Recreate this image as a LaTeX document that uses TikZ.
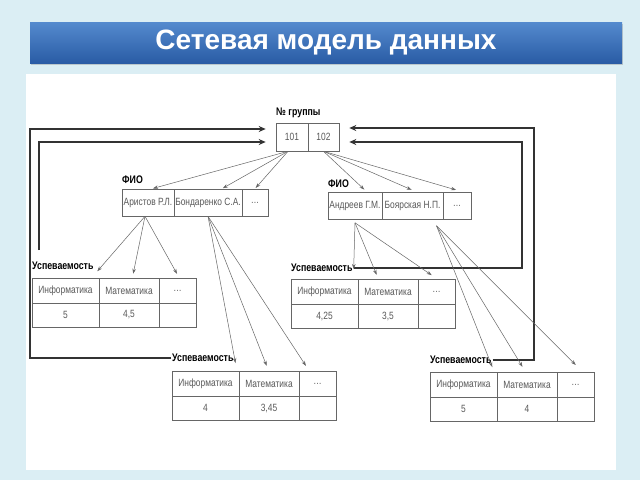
\documentclass[tikz,border=0pt]{standalone}
\usepackage{fontspec}
\setmainfont{Liberation Sans}
\newfontfamily\narrowfont[FakeStretch=0.8]{Liberation Sans}
\usetikzlibrary{arrows.meta}
\usetikzlibrary{shadows}
\pgfdeclarelayer{background}
\pgfdeclarelayer{foreground}
\pgfsetlayers{background,main,foreground}
\definecolor{pagebg}{RGB}{219,238,244}
\definecolor{bannertop}{RGB}{84,138,206}
\definecolor{bannerbot}{RGB}{42,92,165}

\begin{document}
\begin{tikzpicture}[x=1pt,y=-1pt,
					banner/.style={minimum width=592pt, minimum height=41pt, top color=bannertop, bottom color=bannerbot, drop shadow={opacity=0.35, shadow xshift=1pt, shadow yshift=-2pt}, text=white, font=\bfseries\fontsize{28}{30}\selectfont},
					cell/.style={draw=black!60, line width=0.6pt, inner sep=0pt, text=black!65, font=\narrowfont\fontsize{10.5}{12}\selectfont},
					headcell/.style={cell, minimum height=25pt},
					valcell/.style={cell, minimum height=24pt},
					namecell/.style={cell, minimum height=27pt},
					caption/.style={anchor=west, inner sep=1pt, font=\narrowfont\bfseries\fontsize{11}{12}\selectfont},
					feedback/.style={line width=1.6pt, black!80, -{Stealth[length=7pt,width=6pt]}},
					pointer/.style={line width=0.5pt, black!60, shorten >=1pt, -{Stealth[length=5pt,width=3.5pt]}},
					]
					\useasboundingbox (0,0) rectangle (640,480);
					\begin{pgfonlayer}{background}
					\fill[pagebg] (0,0) rectangle (640,480);
					\fill[white] (26,74) rectangle (616,470);
					\end{pgfonlayer}
					
					%Title
					\node[banner] (title) at (326,42.5) {Сетевая модель данных};
					
					%Captions
					\node[caption] (grp)  at (275,113) {№ группы};
					\node[caption] (fio1) at (121,180) {ФИО};
					\node[caption] (fio2) at (327,184) {ФИО};
					\node[caption] (lab1) at (31,266)  {Успеваемость};
					\node[caption] (lab2) at (171,358) {Успеваемость};
					\node[caption] (lab3) at (290,268) {Успеваемость};
					\node[caption] (lab4) at (429,360) {Успеваемость};
					
					%Groups
					\node[namecell, minimum width=32pt, minimum height=28pt] (g101) at (292,137)   {101};
					\node[namecell, minimum width=31pt, minimum height=28pt] (g102) at (323.5,137) {102};
					
					%Students
					\node[namecell, minimum width=52pt] (f1a) at (148,202.5) {Аристов Р.Л.};
					\node[namecell, minimum width=68pt] (f1b) at (208,202.5) {Бондаренко С.А.};
					\node[namecell, minimum width=26pt] (f1c) at (255,202.5) {\dots};
					\node[namecell, minimum width=54pt] (f2a) at (355,206)   {Андреев Г.М.};
					\node[namecell, minimum width=61pt] (f2b) at (412.5,206) {Боярская Н.П.};
					\node[namecell, minimum width=28pt] (f2c) at (457,206)   {\dots};
					
					%Marks
					\node[headcell, minimum width=67pt] (t1a) at (65.5,290.5)  {Информатика};
					\node[headcell, minimum width=60pt] (t1b) at (129,290.5)   {Математика};
					\node[headcell, minimum width=37pt] (t1c) at (177.5,290.5) {\dots};
					\node[valcell,  minimum width=67pt] (t1d) at (65.5,315)    {5};
					\node[valcell,  minimum width=60pt] (t1e) at (129,315)     {4,5};
					\node[valcell,  minimum width=37pt] (t1f) at (177.5,315)   {};
					
					\node[headcell, minimum width=67pt] (t2a) at (205.5,383.5) {Информатика};
					\node[headcell, minimum width=60pt] (t2b) at (269,383.5)   {Математика};
					\node[headcell, minimum width=37pt] (t2c) at (317.5,383.5) {\dots};
					\node[valcell,  minimum width=67pt] (t2d) at (205.5,408)   {4};
					\node[valcell,  minimum width=60pt] (t2e) at (269,408)     {3,45};
					\node[valcell,  minimum width=37pt] (t2f) at (317.5,408)   {};
					
					\node[headcell, minimum width=67pt] (t3a) at (324.5,291.5) {Информатика};
					\node[headcell, minimum width=60pt] (t3b) at (388,291.5)   {Математика};
					\node[headcell, minimum width=37pt] (t3c) at (436.5,291.5) {\dots};
					\node[valcell,  minimum width=67pt] (t3d) at (324.5,316)   {4,25};
					\node[valcell,  minimum width=60pt] (t3e) at (388,316)     {3,5};
					\node[valcell,  minimum width=37pt] (t3f) at (436.5,316)   {};
					
					\node[headcell, minimum width=67pt] (t4a) at (463.5,384.5) {Информатика};
					\node[headcell, minimum width=60pt] (t4b) at (527,384.5)   {Математика};
					\node[headcell, minimum width=37pt] (t4c) at (575.5,384.5) {\dots};
					\node[valcell,  minimum width=67pt] (t4d) at (463.5,409)   {5};
					\node[valcell,  minimum width=60pt] (t4e) at (527,409)     {4};
					\node[valcell,  minimum width=37pt] (t4f) at (575.5,409)   {};
					
					%Corners of the back links
					\coordinate (lo) at (30,129);
					\coordinate (li) at (39,250);
					\coordinate (ri) at (522,142);
					\coordinate (ro) at (534,128);
					
					%Back links
					\draw[feedback] (lab2.west) -| (lo) -- ([xshift=-10pt,yshift=8pt]g101.west);
					\draw[feedback] (li) |- ([xshift=-10pt,yshift=-5pt]g101.west);
					\draw[feedback] (lab4.east) -| (ro) -- ([xshift=10pt,yshift=9pt]g102.east);
					\draw[feedback] (lab3.east) -| (ri) -- ([xshift=10pt,yshift=-5pt]g102.east);
					
					%Pointers
					\draw[pointer] ([xshift=-4pt]g101.south) -- ([xshift=4pt]f1a.north);
					\draw[pointer] ([xshift=-4pt]g101.south) -- ([xshift=14pt]f1b.north);
					\draw[pointer] ([xshift=-4pt]g101.south) -- (f1c.north);
					\draw[pointer] (g102.south) -- ([xshift=10pt,yshift=2pt]f2a.north);
					\draw[pointer] (g102.south) -- ([yshift=2pt]f2b.north);
					\draw[pointer] (g102.south) -- ([yshift=2pt]f2c.north);
					
					\draw[pointer] ([xshift=-3pt]f1a.south) -- ([xshift=2pt,yshift=-6pt]lab1.east);
					\draw[pointer] ([xshift=-3pt]f1a.south) -- ([xshift=4pt,yshift=3pt]t1b.north);
					\draw[pointer] ([xshift=-3pt]f1a.south) -- ([yshift=3pt]t1c.north);
					\draw[pointer] (f1b.south) -- ([xshift=1pt,yshift=-6pt]lab2.east);
					\draw[pointer] (f1b.south) -- ([xshift=-2pt,yshift=4pt]t2b.north);
					\draw[pointer] (f1b.south) -- ([xshift=-11pt,yshift=4pt]t2c.north);
					\draw[pointer] ([yshift=-3pt]f2a.south) -- ([yshift=-2pt]lab3.east);
					\draw[pointer] ([yshift=-3pt]f2a.south) -- ([xshift=-11pt,yshift=3pt]t3b.north);
					\draw[pointer] ([yshift=-3pt]f2a.south) -- ([xshift=-4pt,yshift=3pt]t3c.north);
					\draw[pointer] ([xshift=24pt,yshift=-6pt]f2b.south) -- ([yshift=-8pt]lab4.east);
					\draw[pointer] ([xshift=24pt,yshift=-6pt]f2b.south) -- ([xshift=-4pt,yshift=4pt]t4b.north);
					\draw[pointer] ([xshift=24pt,yshift=-6pt]f2b.south) -- ([xshift=1pt,yshift=6pt]t4c.north);
				\end{tikzpicture}
\end{document}
